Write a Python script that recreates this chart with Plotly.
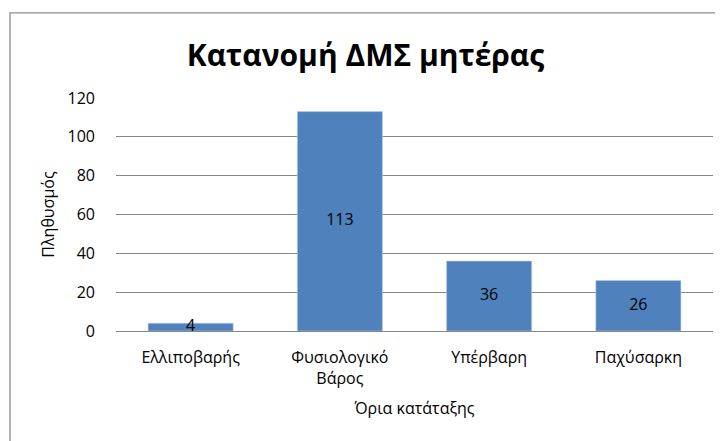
import plotly.graph_objects as go

# Δεδομένα
categories = ["Ελλιποβαρής", "Φυσιολογικό<br>Βάρος", "Υπέρβαρη", "Παχύσαρκη"]
values = [4, 113, 36, 26]
y_ticks = [0, 20, 40, 60, 80, 100, 120]

FONT = "Open Sans, Noto Sans, sans-serif"

fig = go.Figure()
fig.add_trace(go.Bar(
    x=categories, y=values,
    marker=dict(color="#4F81BD", line=dict(color="#B9CDE5", width=0.6)),
    width=0.57, showlegend=False, hoverinfo="skip",
))
# ετικέτες τιμών στο μέσο κάθε στήλης
fig.add_trace(go.Scatter(
    x=categories, y=[v / 2 for v in values],
    mode="text", text=[str(v) for v in values],
    textfont=dict(family=FONT, size=16, color="#000000"),
    showlegend=False, hoverinfo="skip",
))

# η σελίδα έχει περιθώριο 8px, οπότε το σχήμα μικραίνει ανάλογα
fig.update_layout(
    width=715, height=433,
    margin=dict(l=108, r=10, t=90, b=110),
    paper_bgcolor="white", plot_bgcolor="white",
    font=dict(family=FONT, size=16, color="#000000"),
    title=dict(text="<b>Κατανομή ΔΜΣ μητέρας</b>", x=0.5, xanchor="center",
               y=1 - 47 / 433, yanchor="middle",
               font=dict(family=FONT, size=30, color="#000000")),
    shapes=[dict(type="rect", xref="paper", yref="paper",
                 x0=-0.1776, x1=1.0134, y0=-0.49, y1=1.365,
                 line=dict(color="#8C8C8C", width=1.3), layer="below")],
)
fig.update_xaxes(
    showline=True, linecolor="#868686", linewidth=1.3,
    ticks="", tickfont=dict(size=16), ticklabelstandoff=12,
    title=dict(text="Όρια κατάταξης", font=dict(size=16), standoff=14),
)
fig.update_yaxes(
    range=[0, 120], tickvals=y_ticks, showgrid=True, gridcolor="#868686", gridwidth=1.3,
    zeroline=False, showline=False, ticks="", ticklabelstandoff=20,
    tickfont=dict(size=16),
    title=dict(text="Πληθυσμός", font=dict(size=16), standoff=8),
)

fig.write_html("out.html")
